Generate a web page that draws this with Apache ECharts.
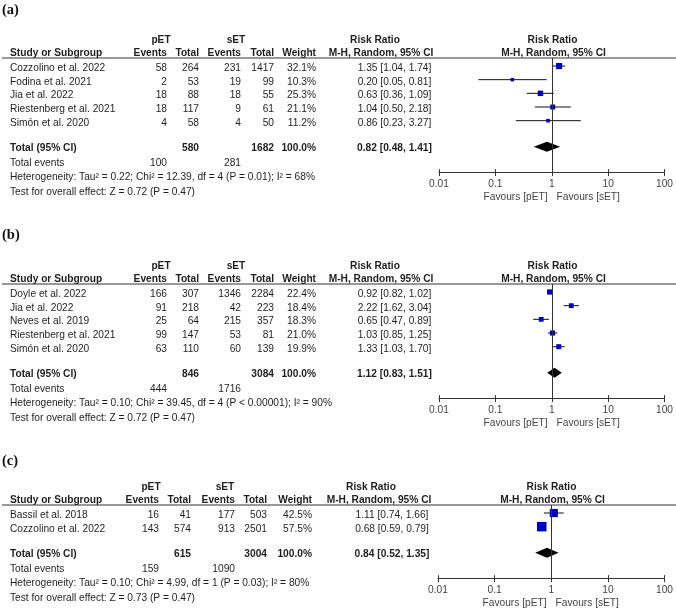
<!DOCTYPE html>
<html>
<head>
<meta charset="utf-8">
<script src="https://cdn.jsdelivr.net/npm/echarts@6/dist/echarts.min.js"></script>
<style>
html,body{margin:0;padding:0;background:#fff;}
#chart{width:676px;height:611px;}
</style>
</head>
<body>
<div id="chart"></div>
<script>
// ---------- DATA ----------
var tickLabels = ['0.01', '0.1', '1', '10', '100'];

var studiesA = ['Cozzolino et al. 2022', 'Fodina et al. 2021', 'Jia et al. 2022', 'Riestenberg et al. 2021', 'Simón et al. 2020'];
var pEventsA = [58, 2, 18, 18, 4];
var pTotalA = [264, 53, 88, 117, 58];
var sEventsA = [231, 19, 18, 9, 4];
var sTotalA = [1417, 99, 55, 61, 50];
var weightA = [32.1, 10.3, 25.3, 21.1, 11.2];
var rrA = [1.35, 0.20, 0.63, 1.04, 0.86];
var loA = [1.04, 0.05, 0.36, 0.50, 0.23];
var hiA = [1.74, 0.81, 1.09, 2.18, 3.27];
var totalA = [580, 1682, 100, 281];          // pET total, sET total, pET events, sET events
var pooledA = [0.82, 0.48, 1.41];
var hetA = 'Heterogeneity: Tau² = 0.22; Chi² = 12.39, df = 4 (P = 0.01); I² = 68%';
var testA = 'Test for overall effect: Z = 0.72 (P = 0.47)';

var studiesB = ['Doyle et al. 2022', 'Jia et al. 2022', 'Neves et al. 2019', 'Riestenberg et al. 2021', 'Simón et al. 2020'];
var pEventsB = [166, 91, 25, 99, 63];
var pTotalB = [307, 218, 64, 147, 110];
var sEventsB = [1346, 42, 215, 53, 60];
var sTotalB = [2284, 223, 357, 81, 139];
var weightB = [22.4, 18.4, 18.3, 21.0, 19.9];
var rrB = [0.92, 2.22, 0.65, 1.03, 1.33];
var loB = [0.82, 1.62, 0.47, 0.85, 1.03];
var hiB = [1.02, 3.04, 0.89, 1.25, 1.70];
var totalB = [846, 3084, 444, 1716];
var pooledB = [1.12, 0.83, 1.51];
var hetB = 'Heterogeneity: Tau² = 0.10; Chi² = 39.45, df = 4 (P < 0.00001); I² = 90%';
var testB = 'Test for overall effect: Z = 0.72 (P = 0.47)';

var studiesC = ['Bassil et al. 2018', 'Cozzolino et al. 2022'];
var pEventsC = [16, 143];
var pTotalC = [41, 574];
var sEventsC = [177, 913];
var sTotalC = [503, 2501];
var weightC = [42.5, 57.5];
var rrC = [1.11, 0.68];
var loC = [0.74, 0.59];
var hiC = [1.66, 0.79];
var totalC = [615, 3004, 159, 1090];
var pooledC = [0.84, 0.52, 1.35];
var hetC = 'Heterogeneity: Tau² = 0.10; Chi² = 4.99, df = 1 (P = 0.03); I² = 80%';
var testC = 'Test for overall effect: Z = 0.73 (P = 0.47)';

var panelLabels = ['(a)', '(b)', '(c)'];

// ---------- LAYOUT / STYLE ----------
var panels = [
  { label: panelLabels[0], labelY: 10, firstY: 66, gridLeft: 439, gridRight: 10, sq: 1.08,
    cols: { pE: 167, pT: 199, sE: 241, sT: 274, w: 316, rr: 394.5, pH: 161, sH: 236, rr1: 375, rr2: 381 },
    studies: studiesA, pE: pEventsA, pT: pTotalA, sE: sEventsA, sT: sTotalA, w: weightA, rr: rrA, lo: loA, hi: hiA,
    tot: totalA, pooled: pooledA, het: hetA, test: testA },
  { label: panelLabels[1], labelY: 235, firstY: 292, gridLeft: 439, gridRight: 10, sq: 1.12,
    cols: { pE: 167, pT: 199, sE: 241, sT: 274, w: 316, rr: 394.5, pH: 161, sH: 236, rr1: 375, rr2: 381 },
    studies: studiesB, pE: pEventsB, pT: pTotalB, sE: sEventsB, sT: sTotalB, w: weightB, rr: rrB, lo: loB, hi: hiB,
    tot: totalB, pooled: pooledB, het: hetB, test: testB },
  { label: panelLabels[2], labelY: 461.5, firstY: 513, gridLeft: 438, gridRight: 11, sq: 1.25,
    cols: { pE: 159, pT: 191, sE: 235, sT: 267, w: 312, rr: 392, pH: 151, sH: 225, rr1: 371, rr2: 379 },
    studies: studiesC, pE: pEventsC, pT: pTotalC, sE: sEventsC, sT: sTotalC, w: weightC, rr: rrC, lo: loC, hi: hiC,
    tot: totalC, pooled: pooledC, het: hetC, test: testC }
];

var ROW_H = 13.67;
var TOTAL_GAP = 0.9;   // total row sits this many rows below last study row
var FF = '"Liberation Sans", Arial, Helvetica, sans-serif';
var FS = 10.2;
var TXT = '#1e1e1e';
var GRAY = '#444';
var BLUE = '#0000c4';

function fmt2(v) { return v.toFixed(2); }
function rrText(r, l, h) { return fmt2(r) + ' [' + fmt2(l) + ', ' + fmt2(h) + ']'; }

var graphics = [];
function txt(x, y, s, align, bold, color, size, family) {
  graphics.push({
    type: 'text', x: x, y: y, silent: true,
    style: {
      text: String(s),
      font: (bold ? 'bold ' : '') + (size || FS) + 'px ' + (family || FF),
      fill: color || TXT,
      textAlign: align || 'left',
      textVerticalAlign: 'middle'
    }
  });
}

var grids = [], xAxes = [], yAxes = [], series = [];

panels.forEach(function (p, pi) {
  var n = p.studies.length;
  var c = p.cols;
  var lineY = p.firstY - 8;
  var totalRow = n - 1 + 1 + TOTAL_GAP; // index of total row
  var totalY = p.firstY + totalRow * ROW_H;
  var axisY = totalY + 26;
  var rowToY = function (r) { return p.firstY + r * ROW_H; };

  // panel label
  txt(2, p.labelY, p.label, 'left', true, '#111', 14.5, '"Liberation Serif", "Times New Roman", serif');

  // headers
  var h1 = p.firstY - 25.5, h2 = p.firstY - 12.8;
  txt(c.pH, h1, 'pET', 'center', true);
  txt(c.sH, h1, 'sET', 'center', true);
  txt(c.rr1, h1, 'Risk Ratio', 'center', true);
  txt(10, h2, 'Study or Subgroup', 'left', true);
  txt(c.pE, h2, 'Events', 'right', true);
  txt(c.pT, h2, 'Total', 'right', true);
  txt(c.sE, h2, 'Events', 'right', true);
  txt(c.sT, h2, 'Total', 'right', true);
  txt(c.w, h2, 'Weight', 'right', true);
  txt(c.rr2, h2, 'M-H, Random, 95% CI', 'center', true);
  var fc = p.gridLeft + (676 - p.gridRight - p.gridLeft) / 2;
  txt(fc, h1, 'Risk Ratio', 'center', true);
  txt(fc + 1, h2, 'M-H, Random, 95% CI', 'center', true);

  graphics.push({ type: 'line', silent: true, shape: { x1: 2, y1: lineY, x2: 676, y2: lineY },
    style: { stroke: '#333', lineWidth: 1 } });

  // study rows
  for (var i = 0; i < n; i++) {
    var ty = rowToY(i) + 2.3;
    txt(10, ty, p.studies[i], 'left');
    txt(c.pE, ty, p.pE[i], 'right');
    txt(c.pT, ty, p.pT[i], 'right');
    txt(c.sE, ty, p.sE[i], 'right');
    txt(c.sT, ty, p.sT[i], 'right');
    txt(c.w, ty, p.w[i].toFixed(1) + '%', 'right');
    txt(c.rr, ty, rrText(p.rr[i], p.lo[i], p.hi[i]), 'center');
  }
  // total rows
  var tt = totalY + 2;
  txt(10, tt, 'Total (95% CI)', 'left', true);
  txt(c.pT, tt, p.tot[0], 'right', true);
  txt(c.sT, tt, p.tot[1], 'right', true);
  txt(c.w, tt, '100.0%', 'right', true);
  txt(c.rr, tt, rrText(p.pooled[0], p.pooled[1], p.pooled[2]), 'center', true);
  txt(10, tt + 14.7, 'Total events', 'left');
  txt(c.pE, tt + 14.7, p.tot[2], 'right');
  txt(c.sE, tt + 14.7, p.tot[3], 'right');
  txt(10, tt + 29, p.het, 'left');
  txt(10, tt + 43.3, p.test, 'left');

  // favours labels
  txt(fc - 5, axisY + 25, 'Favours [pET]', 'right', false, GRAY);
  txt(fc + 4, axisY + 25, 'Favours [sET]', 'left', false, GRAY);

  // grid & axes
  grids.push({ left: p.gridLeft, right: p.gridRight, top: lineY, height: axisY - lineY, containLabel: false });
  var yMin = (lineY - p.firstY) / ROW_H;
  var yMax = (axisY - p.firstY) / ROW_H;
  yAxes.push({ gridIndex: pi, type: 'value', inverse: true, min: yMin, max: yMax, show: false });
  var labelFmt = function (v) {
    var k = Math.round(Math.log(v) / Math.LN10) + 2;
    return tickLabels[k] !== undefined ? tickLabels[k] : '';
  };
  xAxes.push({
    gridIndex: pi, type: 'log', logBase: 10, min: 0.01, max: 100, position: 'bottom',
    axisLine: { show: true, onZero: false, lineStyle: { color: '#333', width: 1 } },
    axisTick: { show: true, length: 3.5, lineStyle: { color: '#333', width: 1 } },
    axisLabel: { show: true, margin: 7, color: GRAY, fontSize: FS, fontFamily: FF, formatter: labelFmt },
    splitLine: { show: false }, minorTick: { show: false }
  });
  xAxes.push({
    gridIndex: pi, type: 'log', logBase: 10, min: 0.01, max: 100, position: 'bottom',
    axisLine: { show: false, onZero: false },
    axisTick: { show: true, inside: true, length: 3.5, lineStyle: { color: '#333', width: 1 } },
    axisLabel: { show: false }, splitLine: { show: false }
  });
  var xi = pi * 2;

  // CI lines
  var ciData = [];
  for (var j = 0; j < n; j++) ciData.push([p.lo[j], p.hi[j], j]);
  series.push({
    type: 'custom', xAxisIndex: xi, yAxisIndex: pi, silent: true, z: 2,
    encode: { x: [0, 1], y: 2 },
    data: ciData,
    renderItem: function (params, api) {
      var a = api.coord([api.value(0), api.value(2)]);
      var b = api.coord([api.value(1), api.value(2)]);
      return { type: 'line', shape: { x1: a[0], y1: a[1], x2: b[0], y2: b[1] },
        style: { stroke: '#111', lineWidth: 1 } };
    }
  });
  // squares
  var sqData = [];
  for (var k2 = 0; k2 < n; k2++) sqData.push([p.rr[k2], k2, p.w[k2]]);
  var sqScale = p.sq;
  series.push({
    type: 'scatter', xAxisIndex: xi, yAxisIndex: pi, silent: true, z: 3,
    symbol: 'rect',
    symbolSize: function (v) { return sqScale * Math.sqrt(v[2]); },
    itemStyle: { color: BLUE, opacity: 1 },
    data: sqData,
    markLine: {
      silent: true, symbol: 'none', animation: false,
      label: { show: false },
      lineStyle: { color: '#333', type: 'solid', width: 1 },
      data: [{ xAxis: 1 }]
    }
  });
  // diamond
  series.push({
    type: 'custom', xAxisIndex: xi, yAxisIndex: pi, silent: true, z: 4,
    encode: { x: [0, 1, 2], y: 3 },
    data: [[p.pooled[0], p.pooled[1], p.pooled[2], totalRow]],
    renderItem: function (params, api) {
      var cpt = api.coord([api.value(0), api.value(3)]);
      var l = api.coord([api.value(1), api.value(3)]);
      var h = api.coord([api.value(2), api.value(3)]);
      var hh = 5;
      return { type: 'polygon',
        shape: { points: [[l[0], cpt[1]], [cpt[0], cpt[1] - hh], [h[0], cpt[1]], [cpt[0], cpt[1] + hh]] },
        style: { fill: '#000' } };
    }
  });
});

var chart = echarts.init(document.getElementById('chart'), null, { renderer: 'canvas' });
chart.setOption({
  backgroundColor: '#fff',
  animation: false,
  grid: grids,
  xAxis: xAxes,
  yAxis: yAxes,
  series: series,
  graphic: { elements: graphics }
});
</script>
</body>
</html>
